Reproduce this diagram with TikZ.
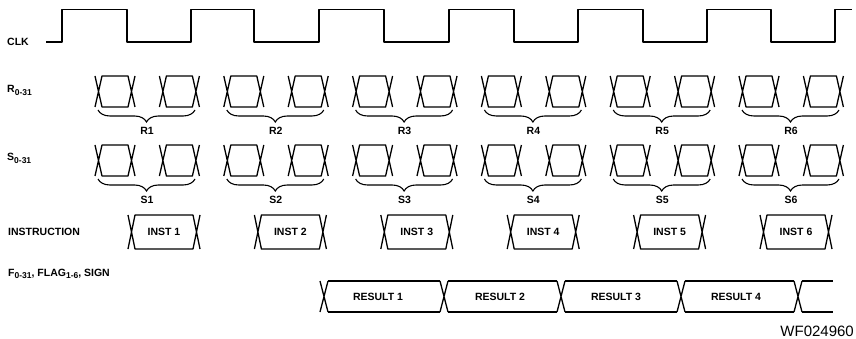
\documentclass[tikz,border=0pt]{standalone}
\usepackage{fontspec}
\setmainfont{Liberation Sans}
\usetikzlibrary{decorations.pathreplacing}
\newcommand{\lowsub}[1]{\raisebox{-2.5pt}{\fontsize{8.5}{10}\selectfont #1}}

\begin{document}
\begin{tikzpicture}[x=1pt, y=-1pt,
    font=\fontsize{10.5}{12}\selectfont\bfseries,
    sig/.style={line width=1.3pt, line join=round},
    lbl/.style={inner sep=0pt, anchor=base west},
    brc/.style={line width=1.1pt, decorate, decoration={brace, mirror, amplitude=12pt}},
    dat/.pic={\draw[sig] (0,0) -- (7,31) -- (33,31) -- (40,0) (0,31) -- (7,0) -- (33,0) -- (40,31);},
    ins/.pic={\draw[sig] (0,0) -- (7,34) -- (65,34) -- (72,0) (0,34) -- (7,0) -- (65,0) -- (72,34);}]
  \useasboundingbox (0,0) rectangle (856,339);
  % signal names
  \node[lbl] (clk) at (7,46) {CLK};
  \node[lbl] (rin) at (7,93) {R\lowsub{0-31}};
  \node[lbl] (sin) at (7,161) {S\lowsub{0-31}};
  \node[lbl] (instr) at (8,235) {INSTRUCTION};
  \node[lbl] (fout) at (8,276) {F\lowsub{0-31}, FLAG\lowsub{1-6}, SIGN};
  % clock
  \draw[sig] (46,42)
    \foreach \r/\f in {62/127,191/254,319/384,449/514,578/643,707/771} { -- (\r,42) -- (\r,9.5) -- (\f,9.5) -- (\f,42) }
    -- (835,42) -- (835,9.5) -- (852,9.5);
  % R and S operands
  \foreach \i in {0,...,11} {
    \pic at ({95+64.4*\i},76) {dat};
    \pic at ({95+64.4*\i},145) {dat};
  }
  \foreach \j in {1,...,6} {
    \pgfmathsetmacro{\s}{95+128.8*(\j-1)}
    \draw[brc] ({\s+3},110) -- ({\s+100},110);
    \draw[brc] ({\s+3},179) -- ({\s+100},179);
    \node[inner sep=0pt, anchor=base] (r\j) at ({\s+52},135) {R\j};
    \node[inner sep=0pt, anchor=base] (s\j) at ({\s+52},204) {S\j};
  }
  % instructions
  \foreach \j in {1,...,6} {
    \pgfmathsetmacro{\s}{128+126.4*(\j-1)}
    \pic at (\s,215) {ins};
    \node (inst\j) at ({\s+36},232) {INST \j};
  }
  % results
  \foreach \c in {324,444,561,681,798}
    \draw[sig] ({\c-4},281) -- ({\c+4},312) ({\c-4},312) -- ({\c+4},281);
  \foreach \a/\b in {324/444,444/561,561/681,681/798}
    \draw[sig] ({\a+4},281) -- ({\b-4},281) ({\a+4},312) -- ({\b-4},312);
  \draw[sig] (802,281) -- (833,281) (802,312) -- (833,312);
  \foreach \x/\n in {378/1,500/2,616/3,736/4}
    \node (res\n) at (\x,296.5) {RESULT \n};
  \node[inner sep=0pt, anchor=base east, font=\fontsize{15}{18}\selectfont] (wf) at (854,336) {WF024960};
\end{tikzpicture}
\end{document}
